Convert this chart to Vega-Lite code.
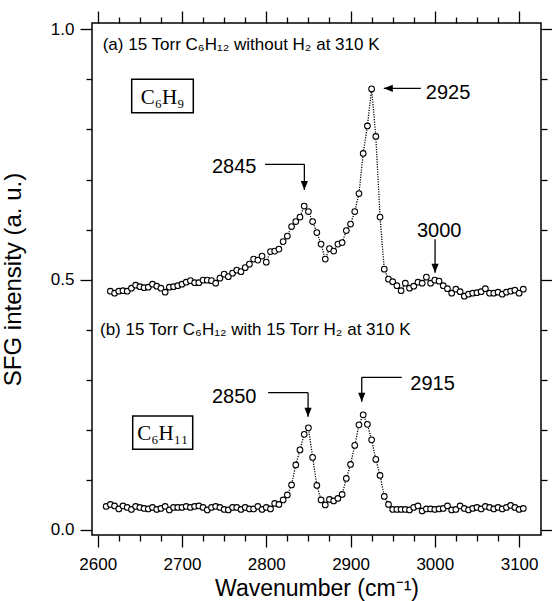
{
  "$schema": "https://vega.github.io/schema/vega-lite/v6.json",
  "width": 449,
  "height": 512,
  "autosize": "none",
  "padding": {"left": 92, "top": 23, "right": 11, "bottom": 66},
  "background": "white",
  "config": {"view": {"stroke": "black", "strokeWidth": 1.5}, "font": "Liberation Sans"},
  "datasets": {
    "spectra": [
      {"panel": "a", "wn": 2615, "v": 0.477}, {"panel": "a", "wn": 2620, "v": 0.473}, {"panel": "a", "wn": 2625, "v": 0.477}, {"panel": "a", "wn": 2630, "v": 0.478}, {"panel": "a", "wn": 2635, "v": 0.477},
      {"panel": "a", "wn": 2640, "v": 0.483}, {"panel": "a", "wn": 2645, "v": 0.489}, {"panel": "a", "wn": 2650, "v": 0.486}, {"panel": "a", "wn": 2655, "v": 0.484}, {"panel": "a", "wn": 2660, "v": 0.485},
      {"panel": "a", "wn": 2665, "v": 0.491}, {"panel": "a", "wn": 2670, "v": 0.487}, {"panel": "a", "wn": 2675, "v": 0.483}, {"panel": "a", "wn": 2680, "v": 0.475}, {"panel": "a", "wn": 2685, "v": 0.485},
      {"panel": "a", "wn": 2690, "v": 0.486}, {"panel": "a", "wn": 2695, "v": 0.488}, {"panel": "a", "wn": 2700, "v": 0.491}, {"panel": "a", "wn": 2705, "v": 0.495}, {"panel": "a", "wn": 2710, "v": 0.498},
      {"panel": "a", "wn": 2715, "v": 0.494}, {"panel": "a", "wn": 2720, "v": 0.494}, {"panel": "a", "wn": 2725, "v": 0.499}, {"panel": "a", "wn": 2730, "v": 0.499}, {"panel": "a", "wn": 2735, "v": 0.498},
      {"panel": "a", "wn": 2740, "v": 0.493}, {"panel": "a", "wn": 2745, "v": 0.503}, {"panel": "a", "wn": 2750, "v": 0.511}, {"panel": "a", "wn": 2755, "v": 0.506}, {"panel": "a", "wn": 2760, "v": 0.513},
      {"panel": "a", "wn": 2765, "v": 0.519}, {"panel": "a", "wn": 2770, "v": 0.516}, {"panel": "a", "wn": 2775, "v": 0.524}, {"panel": "a", "wn": 2780, "v": 0.531}, {"panel": "a", "wn": 2785, "v": 0.541},
      {"panel": "a", "wn": 2790, "v": 0.539}, {"panel": "a", "wn": 2795, "v": 0.547}, {"panel": "a", "wn": 2800, "v": 0.535}, {"panel": "a", "wn": 2805, "v": 0.556}, {"panel": "a", "wn": 2810, "v": 0.557},
      {"panel": "a", "wn": 2815, "v": 0.561}, {"panel": "a", "wn": 2820, "v": 0.576}, {"panel": "a", "wn": 2825, "v": 0.587}, {"panel": "a", "wn": 2830, "v": 0.606}, {"panel": "a", "wn": 2835, "v": 0.616},
      {"panel": "a", "wn": 2840, "v": 0.625}, {"panel": "a", "wn": 2845, "v": 0.647}, {"panel": "a", "wn": 2850, "v": 0.636}, {"panel": "a", "wn": 2855, "v": 0.616}, {"panel": "a", "wn": 2860, "v": 0.594},
      {"panel": "a", "wn": 2865, "v": 0.571}, {"panel": "a", "wn": 2870, "v": 0.541}, {"panel": "a", "wn": 2875, "v": 0.562}, {"panel": "a", "wn": 2880, "v": 0.557}, {"panel": "a", "wn": 2885, "v": 0.571},
      {"panel": "a", "wn": 2890, "v": 0.574}, {"panel": "a", "wn": 2895, "v": 0.598}, {"panel": "a", "wn": 2900, "v": 0.611}, {"panel": "a", "wn": 2905, "v": 0.636}, {"panel": "a", "wn": 2910, "v": 0.672},
      {"panel": "a", "wn": 2915, "v": 0.752}, {"panel": "a", "wn": 2920, "v": 0.807}, {"panel": "a", "wn": 2925, "v": 0.881}, {"panel": "a", "wn": 2930, "v": 0.786}, {"panel": "a", "wn": 2935, "v": 0.625},
      {"panel": "a", "wn": 2940, "v": 0.521}, {"panel": "a", "wn": 2945, "v": 0.501}, {"panel": "a", "wn": 2950, "v": 0.496}, {"panel": "a", "wn": 2955, "v": 0.488}, {"panel": "a", "wn": 2960, "v": 0.478},
      {"panel": "a", "wn": 2965, "v": 0.493}, {"panel": "a", "wn": 2970, "v": 0.483}, {"panel": "a", "wn": 2975, "v": 0.487}, {"panel": "a", "wn": 2980, "v": 0.495}, {"panel": "a", "wn": 2985, "v": 0.493},
      {"panel": "a", "wn": 2990, "v": 0.505}, {"panel": "a", "wn": 2995, "v": 0.493}, {"panel": "a", "wn": 3000, "v": 0.499}, {"panel": "a", "wn": 3005, "v": 0.497}, {"panel": "a", "wn": 3010, "v": 0.488},
      {"panel": "a", "wn": 3015, "v": 0.482}, {"panel": "a", "wn": 3020, "v": 0.473}, {"panel": "a", "wn": 3025, "v": 0.481}, {"panel": "a", "wn": 3030, "v": 0.476}, {"panel": "a", "wn": 3035, "v": 0.467},
      {"panel": "a", "wn": 3040, "v": 0.471}, {"panel": "a", "wn": 3045, "v": 0.473}, {"panel": "a", "wn": 3050, "v": 0.474}, {"panel": "a", "wn": 3055, "v": 0.476}, {"panel": "a", "wn": 3060, "v": 0.482},
      {"panel": "a", "wn": 3065, "v": 0.473}, {"panel": "a", "wn": 3070, "v": 0.473}, {"panel": "a", "wn": 3075, "v": 0.475}, {"panel": "a", "wn": 3080, "v": 0.471}, {"panel": "a", "wn": 3085, "v": 0.475},
      {"panel": "a", "wn": 3090, "v": 0.477}, {"panel": "a", "wn": 3095, "v": 0.479}, {"panel": "a", "wn": 3100, "v": 0.473}, {"panel": "a", "wn": 3105, "v": 0.481},
      {"panel": "b", "wn": 2610, "v": 0.047}, {"panel": "b", "wn": 2615, "v": 0.051}, {"panel": "b", "wn": 2620, "v": 0.048}, {"panel": "b", "wn": 2625, "v": 0.042}, {"panel": "b", "wn": 2630, "v": 0.048},
      {"panel": "b", "wn": 2635, "v": 0.045}, {"panel": "b", "wn": 2640, "v": 0.041}, {"panel": "b", "wn": 2645, "v": 0.047}, {"panel": "b", "wn": 2650, "v": 0.045}, {"panel": "b", "wn": 2655, "v": 0.043},
      {"panel": "b", "wn": 2660, "v": 0.042}, {"panel": "b", "wn": 2665, "v": 0.045}, {"panel": "b", "wn": 2670, "v": 0.041}, {"panel": "b", "wn": 2675, "v": 0.043}, {"panel": "b", "wn": 2680, "v": 0.047},
      {"panel": "b", "wn": 2685, "v": 0.040}, {"panel": "b", "wn": 2690, "v": 0.045}, {"panel": "b", "wn": 2695, "v": 0.045}, {"panel": "b", "wn": 2700, "v": 0.045}, {"panel": "b", "wn": 2705, "v": 0.047},
      {"panel": "b", "wn": 2710, "v": 0.045}, {"panel": "b", "wn": 2715, "v": 0.047}, {"panel": "b", "wn": 2720, "v": 0.048}, {"panel": "b", "wn": 2725, "v": 0.045}, {"panel": "b", "wn": 2730, "v": 0.040},
      {"panel": "b", "wn": 2735, "v": 0.045}, {"panel": "b", "wn": 2740, "v": 0.047}, {"panel": "b", "wn": 2745, "v": 0.045}, {"panel": "b", "wn": 2750, "v": 0.041}, {"panel": "b", "wn": 2755, "v": 0.040},
      {"panel": "b", "wn": 2760, "v": 0.045}, {"panel": "b", "wn": 2765, "v": 0.045}, {"panel": "b", "wn": 2770, "v": 0.041}, {"panel": "b", "wn": 2775, "v": 0.045}, {"panel": "b", "wn": 2780, "v": 0.042},
      {"panel": "b", "wn": 2785, "v": 0.042}, {"panel": "b", "wn": 2790, "v": 0.047}, {"panel": "b", "wn": 2795, "v": 0.041}, {"panel": "b", "wn": 2800, "v": 0.045}, {"panel": "b", "wn": 2805, "v": 0.042},
      {"panel": "b", "wn": 2810, "v": 0.053}, {"panel": "b", "wn": 2815, "v": 0.051}, {"panel": "b", "wn": 2820, "v": 0.060}, {"panel": "b", "wn": 2825, "v": 0.070}, {"panel": "b", "wn": 2830, "v": 0.090},
      {"panel": "b", "wn": 2835, "v": 0.130}, {"panel": "b", "wn": 2840, "v": 0.160}, {"panel": "b", "wn": 2845, "v": 0.191}, {"panel": "b", "wn": 2850, "v": 0.204}, {"panel": "b", "wn": 2855, "v": 0.145},
      {"panel": "b", "wn": 2860, "v": 0.089}, {"panel": "b", "wn": 2865, "v": 0.060}, {"panel": "b", "wn": 2870, "v": 0.050}, {"panel": "b", "wn": 2875, "v": 0.061}, {"panel": "b", "wn": 2880, "v": 0.058},
      {"panel": "b", "wn": 2885, "v": 0.063}, {"panel": "b", "wn": 2890, "v": 0.071}, {"panel": "b", "wn": 2895, "v": 0.103}, {"panel": "b", "wn": 2900, "v": 0.131}, {"panel": "b", "wn": 2905, "v": 0.169},
      {"panel": "b", "wn": 2910, "v": 0.210}, {"panel": "b", "wn": 2915, "v": 0.230}, {"panel": "b", "wn": 2920, "v": 0.211}, {"panel": "b", "wn": 2925, "v": 0.180}, {"panel": "b", "wn": 2930, "v": 0.141},
      {"panel": "b", "wn": 2935, "v": 0.109}, {"panel": "b", "wn": 2940, "v": 0.067}, {"panel": "b", "wn": 2945, "v": 0.051}, {"panel": "b", "wn": 2950, "v": 0.041}, {"panel": "b", "wn": 2955, "v": 0.041},
      {"panel": "b", "wn": 2960, "v": 0.041}, {"panel": "b", "wn": 2965, "v": 0.041}, {"panel": "b", "wn": 2970, "v": 0.040}, {"panel": "b", "wn": 2975, "v": 0.045}, {"panel": "b", "wn": 2980, "v": 0.048},
      {"panel": "b", "wn": 2985, "v": 0.038}, {"panel": "b", "wn": 2990, "v": 0.042}, {"panel": "b", "wn": 2995, "v": 0.042}, {"panel": "b", "wn": 3000, "v": 0.041}, {"panel": "b", "wn": 3005, "v": 0.042},
      {"panel": "b", "wn": 3010, "v": 0.043}, {"panel": "b", "wn": 3015, "v": 0.048}, {"panel": "b", "wn": 3020, "v": 0.040}, {"panel": "b", "wn": 3025, "v": 0.041}, {"panel": "b", "wn": 3030, "v": 0.048},
      {"panel": "b", "wn": 3035, "v": 0.043}, {"panel": "b", "wn": 3040, "v": 0.040}, {"panel": "b", "wn": 3045, "v": 0.043}, {"panel": "b", "wn": 3050, "v": 0.045}, {"panel": "b", "wn": 3055, "v": 0.042},
      {"panel": "b", "wn": 3060, "v": 0.047}, {"panel": "b", "wn": 3065, "v": 0.045}, {"panel": "b", "wn": 3070, "v": 0.042}, {"panel": "b", "wn": 3075, "v": 0.045}, {"panel": "b", "wn": 3080, "v": 0.042},
      {"panel": "b", "wn": 3085, "v": 0.045}, {"panel": "b", "wn": 3090, "v": 0.049}, {"panel": "b", "wn": 3095, "v": 0.045}, {"panel": "b", "wn": 3100, "v": 0.041}, {"panel": "b", "wn": 3105, "v": 0.043}
    ],
    "arrows": [
      {"x": 2939.5, "y": 0.8822, "x2": 2983.4, "y2": 0.8822},
      {"x": 2798.5, "y": 0.7304, "x2": 2845.2, "y2": 0.7304},
      {"x": 2845.2, "y": 0.7304, "x2": 2845.2, "y2": 0.679},
      {"x": 3000.3, "y": 0.5806, "x2": 3000.3, "y2": 0.5139},
      {"x": 2802.2, "y": 0.2742, "x2": 2849.6, "y2": 0.2742},
      {"x": 2849.6, "y": 0.2742, "x2": 2849.6, "y2": 0.2263},
      {"x": 2913.3, "y": 0.305, "x2": 2960.8, "y2": 0.305},
      {"x": 2913.3, "y": 0.305, "x2": 2913.3, "y2": 0.2562}
    ],
    "heads": [
      {"x": 2939.5, "y": 0.8822, "dir": "left"},
      {"x": 2845.2, "y": 0.679, "dir": "down"},
      {"x": 3000.3, "y": 0.5139, "dir": "down"},
      {"x": 2849.6, "y": 0.2263, "dir": "down"},
      {"x": 2913.3, "y": 0.2562, "dir": "down"}
    ],
    "peaks": [
      {"x": 3015.7, "y": 0.8618, "text": "2925"},
      {"x": 2762, "y": 0.7124, "text": "2845"},
      {"x": 3005.2, "y": 0.5858, "text": "3000"},
      {"x": 2762, "y": 0.253, "text": "2850"},
      {"x": 2997.3, "y": 0.2796, "text": "2915"}
    ],
    "conditions": [
      {"x": 2605.9, "y": 0.9587, "text": "(a) 15 Torr C₆H₁₂ without H₂ at 310 K"},
      {"x": 2602.7, "y": 0.3895, "text": "(b) 15 Torr C₆H₁₂ with 15 Torr H₂ at 310 K"}
    ],
    "boxes": [
      {"x": 2640.3, "x2": 2713.4, "y": 0.9001, "y2": 0.8334},
      {"x": 2641.5, "x2": 2712.7, "y": 0.2277, "y2": 0.1612}
    ],
    "boxlabels": [
      {"x": 2676.9, "y": 0.8508, "text": "C₆H₉"},
      {"x": 2677.1, "y": 0.1797, "text": "C₆H₁₁"}
    ]
  },
  "resolve": {"axis": {"x": "independent", "y": "independent"}},
  "layer": [
    {
      "data": {"name": "spectra"},
      "mark": {"type": "line", "stroke": "black", "strokeWidth": 1.3, "strokeDash": [1.2, 1.3]},
      "encoding": {
        "x": {"field": "wn", "type": "quantitative", "scale": {"domain": [2593.2, 3126], "nice": false, "zero": false}, "axis": null},
        "y": {"field": "v", "type": "quantitative", "scale": {"domain": [-0.01, 1.0126], "nice": false, "zero": false}, "axis": null},
        "detail": {"field": "panel"}
      }
    },
    {
      "data": {"name": "spectra"},
      "mark": {"type": "point", "shape": "circle", "filled": true, "fill": "white", "stroke": "black", "strokeWidth": 1.1, "size": 32, "opacity": 1},
      "encoding": {
        "x": {"field": "wn", "type": "quantitative", "scale": {"domain": [2593.2, 3126], "nice": false, "zero": false},
          "axis": {"orient": "bottom", "values": [2600, 2625, 2650, 2675, 2700, 2725, 2750, 2775, 2800, 2825, 2850, 2875, 2900, 2925, 2950, 2975, 3000, 3025, 3050, 3075, 3100],
            "format": "d", "labelExpr": "datum.value % 100 === 0 ? datum.label : ''",
            "tickSize": {"condition": {"test": "datum.value % 100 === 0", "value": 12}, "value": 6},
            "tickWidth": 1.3, "tickColor": "black", "domain": false, "grid": false,
            "labelFont": "Liberation Sans", "labelFontSize": 17, "labelColor": "black", "labelPadding": 9.5, "labelFlush": false, "labelOverlap": false, "labelBound": false,
            "title": "Wavenumber (cm⁻¹)", "titleFont": "Liberation Sans", "titleFontSize": 23, "titleFontWeight": "normal", "titleColor": "black", "titlePadding": 5}},
        "y": {"field": "v", "type": "quantitative", "scale": {"domain": [-0.01, 1.0126], "nice": false, "zero": false},
          "axis": {"orient": "left", "values": [0, 0.1, 0.2, 0.3, 0.4, 0.5, 0.6, 0.7, 0.8, 0.9, 1.0],
            "labelExpr": "abs(datum.value - round(datum.value * 2) / 2) < 0.001 ? format(datum.value, '.1f') : ''",
            "tickSize": {"condition": {"test": "abs(datum.value - round(datum.value * 2) / 2) < 0.001", "value": 12}, "value": 6},
            "tickWidth": 1.3, "tickColor": "black", "domain": false, "grid": false,
            "labelFont": "Liberation Sans", "labelFontSize": 17, "labelColor": "black", "labelPadding": 6, "labelFlush": false, "labelOverlap": false, "labelBound": false,
            "title": "SFG intensity (a. u.)", "titleFont": "Liberation Sans", "titleFontSize": 24, "titleFontWeight": "normal", "titleColor": "black", "titlePadding": 25}}
      }
    },
    {
      "data": {"name": "boxes"},
      "mark": {"type": "rect", "fill": "white", "fillOpacity": 0, "stroke": "black", "strokeWidth": 1.5},
      "encoding": {
        "x": {"field": "x", "type": "quantitative", "scale": {"domain": [2593.2, 3126], "nice": false, "zero": false},
          "axis": {"orient": "top", "values": [2600, 2625, 2650, 2675, 2700, 2725, 2750, 2775, 2800, 2825, 2850, 2875, 2900, 2925, 2950, 2975, 3000, 3025, 3050, 3075, 3100],
            "labels": false, "title": null, "domain": false, "grid": false,
            "tickSize": {"condition": {"test": "datum.value % 100 === 0", "value": 12}, "value": 6},
            "tickWidth": 1.3, "tickColor": "black"}},
        "x2": {"field": "x2"},
        "y": {"field": "y", "type": "quantitative", "scale": {"domain": [-0.01, 1.0126], "nice": false, "zero": false},
          "axis": {"orient": "right", "values": [0, 0.1, 0.2, 0.3, 0.4, 0.5, 0.6, 0.7, 0.8, 0.9, 1.0],
            "labels": false, "title": null, "domain": false, "grid": false,
            "tickSize": {"condition": {"test": "abs(datum.value - round(datum.value * 2) / 2) < 0.001", "value": 12}, "value": 6},
            "tickWidth": 1.3, "tickColor": "black"}},
        "y2": {"field": "y2"}
      }
    },
    {
      "data": {"name": "boxlabels"},
      "mark": {"type": "text", "font": "Liberation Serif", "fontSize": 21, "align": "center", "baseline": "alphabetic", "color": "black"},
      "encoding": {
        "x": {"field": "x", "type": "quantitative", "scale": {"domain": [2593.2, 3126], "nice": false, "zero": false}, "axis": null},
        "y": {"field": "y", "type": "quantitative", "scale": {"domain": [-0.01, 1.0126], "nice": false, "zero": false}, "axis": null},
        "text": {"field": "text"}
      }
    },
    {
      "data": {"name": "conditions"},
      "mark": {"type": "text", "font": "Liberation Sans", "fontSize": 17, "align": "left", "baseline": "alphabetic", "color": "black"},
      "encoding": {
        "x": {"field": "x", "type": "quantitative", "scale": {"domain": [2593.2, 3126], "nice": false, "zero": false}, "axis": null},
        "y": {"field": "y", "type": "quantitative", "scale": {"domain": [-0.01, 1.0126], "nice": false, "zero": false}, "axis": null},
        "text": {"field": "text"}
      }
    },
    {
      "data": {"name": "arrows"},
      "mark": {"type": "rule", "stroke": "black", "strokeWidth": 1.3},
      "encoding": {
        "x": {"field": "x", "type": "quantitative", "scale": {"domain": [2593.2, 3126], "nice": false, "zero": false}, "axis": null},
        "y": {"field": "y", "type": "quantitative", "scale": {"domain": [-0.01, 1.0126], "nice": false, "zero": false}, "axis": null},
        "x2": {"field": "x2"},
        "y2": {"field": "y2"}
      }
    },
    {
      "data": {"name": "heads"},
      "mark": {"type": "point", "filled": true, "fill": "black", "strokeWidth": 0, "size": 324, "opacity": 1},
      "encoding": {
        "x": {"field": "x", "type": "quantitative", "scale": {"domain": [2593.2, 3126], "nice": false, "zero": false}, "axis": null},
        "y": {"field": "y", "type": "quantitative", "scale": {"domain": [-0.01, 1.0126], "nice": false, "zero": false}, "axis": null},
        "shape": {"field": "dir", "type": "nominal", "scale": {"domain": ["down", "left"], "range": ["M -0.4 -1 L 0.4 -1 L 0 0 Z", "M 1 -0.4 L 1 0.4 L 0 0 Z"]}, "legend": null}
      }
    },
    {
      "data": {"name": "peaks"},
      "mark": {"type": "text", "font": "Liberation Sans", "fontSize": 20, "align": "center", "baseline": "alphabetic", "color": "black"},
      "encoding": {
        "x": {"field": "x", "type": "quantitative", "scale": {"domain": [2593.2, 3126], "nice": false, "zero": false}, "axis": null},
        "y": {"field": "y", "type": "quantitative", "scale": {"domain": [-0.01, 1.0126], "nice": false, "zero": false}, "axis": null},
        "text": {"field": "text"}
      }
    }
  ]
}
